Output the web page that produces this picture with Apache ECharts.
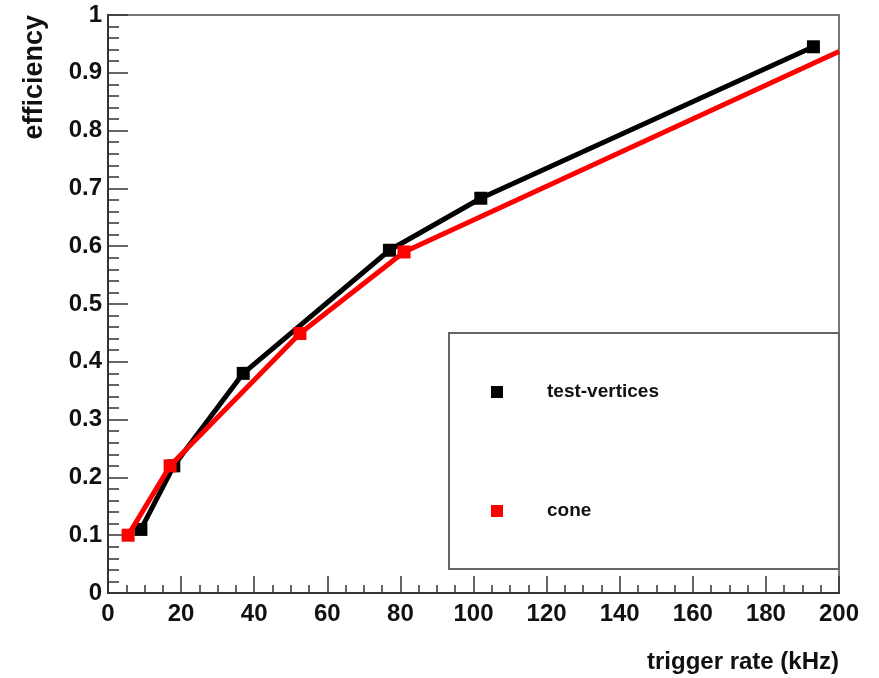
<!DOCTYPE html>
<html lang="en">
<head>
    <meta charset="utf-8">
    <title>efficiency vs trigger rate</title>
    <script src="https://cdn.jsdelivr.net/npm/echarts@6/dist/echarts.min.js"></script>
    <style>
        html, body { margin: 0; padding: 0; background: #fff; }
        #main { width: 879px; height: 678px; }
    </style>
</head>
<body>
    <div id="main"></div>
    <script type="text/javascript">
    // values
    var rateTV = [9, 18, 37, 77, 102, 193];
    var effTV  = [0.11, 0.22, 0.38, 0.593, 0.683, 0.945];
    var rateCone = [5.5, 17, 52.5, 81, 200];
    var effCone  = [0.10, 0.22, 0.449, 0.59, 0.937];   // last one is where the line hits the frame

    var FONT = '"Liberation Sans", Arial, Helvetica, sans-serif';

    function pairs(xs, ys) {
        return xs.map(function (x, i) { return [x, ys[i]]; });
    }

    var coneData = pairs(rateCone, effCone).map(function (p, i) {
        // no marker drawn at the frame edge
        return i === rateCone.length - 1 ? { value: p, symbolSize: 0 } : p;
    });

    var myChart = echarts.init(document.getElementById('main'), null, { renderer: 'canvas' });

    myChart.setOption({
        animation: false,
        grid: {
            left: 108, right: 40, top: 15, bottom: 85,
            show: true, borderColor: '#777', borderWidth: 2
        },
        xAxis: {
            type: 'value', min: 0, max: 200, interval: 20,
            name: 'trigger rate (kHz)', nameLocation: 'end', nameGap: 0,
            nameTextStyle: {
                fontFamily: FONT, fontSize: 24, fontWeight: 'bold', color: '#111',
                align: 'right', verticalAlign: 'top', padding: [57, 0, 0, 0]
            },
            axisLine: { lineStyle: { color: '#333', width: 2 } },
            axisTick: { inside: true, length: 17, lineStyle: { color: '#333', width: 1.5 } },
            minorTick: { show: true, splitNumber: 4, length: 8, lineStyle: { color: '#333', width: 1.5 } },
            axisLabel: { fontFamily: FONT, fontSize: 24, fontWeight: 'bold', color: '#111', margin: 9 },
            splitLine: { show: false }
        },
        yAxis: {
            type: 'value', min: 0, max: 1, interval: 0.1,
            axisLine: { lineStyle: { color: '#333', width: 2 } },
            axisTick: { inside: true, length: 20, lineStyle: { color: '#333', width: 1.5 } },
            minorTick: { show: true, splitNumber: 5, length: 11, lineStyle: { color: '#333', width: 1.5 } },
            axisLabel: { fontFamily: FONT, fontSize: 24, fontWeight: 'bold', color: '#111', margin: 6 },
            splitLine: { show: false }
        },
        legend: {
            orient: 'vertical', left: 449, top: 333,
            padding: [49, 180, 48, 42],
            itemGap: 99, itemWidth: 12, itemHeight: 12,
            icon: 'rect',
            borderColor: '#666', borderWidth: 2, backgroundColor: '#fff',
            textStyle: {
                fontFamily: FONT, fontSize: 19, fontWeight: 'bold', color: '#111',
                lineHeight: 20, padding: [0, 0, 0, 39]
            },
            data: ['test-vertices', 'cone']
        },
        graphic: [{
            type: 'text', x: 35, y: 15, rotation: Math.PI / 2,
            style: {
                text: 'efficiency', fill: '#111',
                font: 'bold 27px ' + FONT,
                align: 'right', verticalAlign: 'middle'
            }
        }],
        series: [{
            name: 'test-vertices',
            type: 'line',
            data: pairs(rateTV, effTV),
            symbol: 'rect', symbolSize: 13, showAllSymbol: true,
            itemStyle: { color: '#000' },
            lineStyle: { color: '#000', width: 5 },
            z: 2
        }, {
            name: 'cone',
            type: 'line',
            data: coneData,
            symbol: 'rect', symbolSize: 13, showAllSymbol: true,
            itemStyle: { color: '#ff0000' },
            lineStyle: { color: '#ff0000', width: 5 },
            z: 3
        }]
    });
    </script>
</body>
</html>
